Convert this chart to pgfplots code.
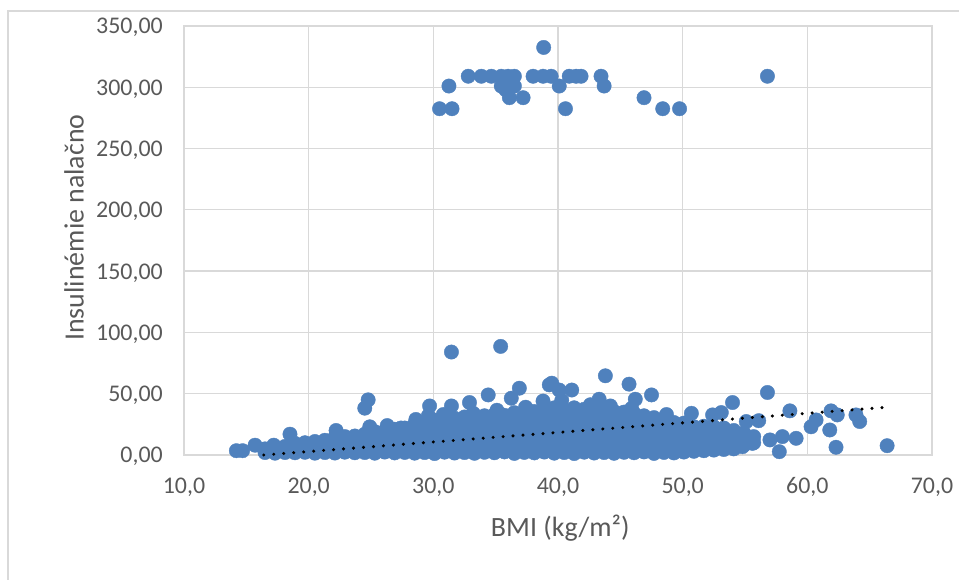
\documentclass[border=0pt]{standalone}
\usepackage{pgfplots}
\pgfplotsset{compat=1.18}
\usepackage{fontspec}
\setmainfont{Carlito}
\definecolor{exblue}{RGB}{79,129,189}
\definecolor{txtgray}{RGB}{89,89,89}
\definecolor{gridgray}{RGB}{217,217,217}
\begin{document}
\begin{tikzpicture}[x=1bp,y=1bp]
\path[use as bounding box] (0,0) rectangle (959,580);
\draw[gridgray, line width=2bp] (8,0) -- (8,569) -- (959,569);
\begin{axis}[
  at={(184bp,125bp)}, anchor=south west,
  scale only axis, width=748bp, height=429bp,
  xmin=10, xmax=70, ymin=0, ymax=350,
  xtick={10,20,30,40,50,60,70},
  xticklabels={{10,0},{20,0},{30,0},{40,0},{50,0},{60,0},{70,0}},
  ytick={0,50,100,150,200,250,300,350},
  yticklabels={{0,00},{50,00},{100,00},{150,00},{200,00},{250,00},{300,00},{350,00}},
  major tick length=0pt,
  axis line style={gridgray, line width=1.3bp},
  every tick label/.append style={font=\fontsize{24}{28}\selectfont, text=txtgray},
  yticklabel style={anchor=base east, inner sep=0pt, xshift=-21bp, yshift=-8bp},
  xticklabel style={anchor=base, inner sep=0pt, yshift=-39bp},
  xlabel={BMI (kg/m²)},
  ylabel={Insulinémie nalačno},
  label style={font=\fontsize{28}{32}\selectfont, text=txtgray},
  xlabel style={at={(axis description cs:0.503,-0.170)}, anchor=center},
  ylabel style={at={(axis description cs:-0.147,0.530)}, anchor=center},
  clip=false,
]
% grid lines
\addplot[gridgray, line width=1.3bp, forget plot] coordinates {(20,0) (20,350)};
\addplot[gridgray, line width=1.3bp, forget plot] coordinates {(30,0) (30,350)};
\addplot[gridgray, line width=1.3bp, forget plot] coordinates {(40,0) (40,350)};
\addplot[gridgray, line width=1.3bp, forget plot] coordinates {(50,0) (50,350)};
\addplot[gridgray, line width=1.3bp, forget plot] coordinates {(60,0) (60,350)};
\addplot[gridgray, line width=1.3bp, forget plot] coordinates {(10,50) (70,50)};
\addplot[gridgray, line width=1.3bp, forget plot] coordinates {(10,100) (70,100)};
\addplot[gridgray, line width=1.3bp, forget plot] coordinates {(10,150) (70,150)};
\addplot[gridgray, line width=1.3bp, forget plot] coordinates {(10,200) (70,200)};
\addplot[gridgray, line width=1.3bp, forget plot] coordinates {(10,250) (70,250)};
\addplot[gridgray, line width=1.3bp, forget plot] coordinates {(10,300) (70,300)};
% upper outliers
\addplot[only marks, mark=*, mark size=7.2bp, exblue, mark options={fill=exblue, draw=exblue}] coordinates {
(38.85,332.5) (31.25,301) (30.5,282.5) (31.5,282.5)
(32.8,309) (33.85,309) (34.65,309) (35.45,309) (36.0,309) (36.5,309)
(35.45,301) (36.0,301) (36.5,301) (35.8,298) (36.1,291.5) (37.2,291.5)
(38.0,309) (38.8,309) (39.45,309) (40.1,301) (40.6,282.5)
(40.9,309) (41.45,309) (41.85,309) (43.45,309) (43.7,301)
(46.9,291.5) (48.4,282.5) (49.75,282.5) (56.8,309)
};
% scatter cloud
\addplot[only marks, mark=*, mark size=7.2bp, exblue, mark options={fill=exblue, draw=exblue}] coordinates {
(31.45,84) (35.4,88.6) (24.77,45) (24.5,38.2) (39.3,57.2) (36.9,54.5) (34.4,49) (32.9,42.8)
(31.45,40) (29.7,40) (36.25,46.3) (38.8,44) (18.5,17) (15.7,8) (14.2,3.5) (14.7,3.5) (17.2,8)
(22.2,20) (24.9,23) (27.4,22) (28.6,29) (29.6,32) (33.2,34) (35.1,36.5) (37.4,39) (40.3,44.5)
(42.6,41) (44.2,40) (45.9,38) (48.7,33) (30.8,33) (26.3,24)
(43.8,64.6) (39.5,58.6) (45.7,57.8) (41.1,53) (40.1,53) (47.5,49) (43.3,45.5) (46.2,45.5)
(56.8,51) (54,42.8) (50.7,34) (58.6,36) (61.9,36) (62.4,32.7) (63.9,32.7) (64.2,27.3)
(60.7,28.6) (60.3,23) (61.8,20.4) (62.3,6.3) (66.4,7.6) (57.75,2.7) (59.1,13.6) (58.0,15)
(52.4,32.7) (53.1,34.6) (55.1,27.3) (56.1,28) (55.6,9.5) (54.8,6.8) (57.0,12.3)
(16.5,2) (16.5,5)
(17.3,1.5) (17.3,6)
(18.1,2) (18.1,7)
(18.9,1.8) (18.9,6.5) (18.9,9.5)
(19.7,2.2) (19.7,6) (19.7,10)
(20.5,1.5) (20.5,6.3) (20.5,11)
(21.3,2) (21.3,7) (21.3,12)
(22.1,1.6) (22.1,6.5) (22.1,11) (22.1,14.5)
(22.9,2.3) (22.9,7) (22.9,11.5) (22.9,15)
(23.7,1.8) (23.7,6) (23.7,10.5) (23.7,15.5)
(24.5,2) (24.5,7) (24.5,12) (24.5,17)
(25.3,1.5) (25.3,6.5) (25.3,11.5) (25.3,16.5) (25.3,19)
(26.1,2.4) (26.1,7.2) (26.1,12) (26.1,17) (26.1,19.5)
(26.9,1.7) (26.9,6.3) (26.9,11) (26.9,16) (26.9,21)
(27.7,2.1) (27.7,7) (27.7,12) (27.7,17) (27.7,22)
(28.5,1.5) (28.5,6.5) (28.5,11.5) (28.5,16.5) (28.5,21.5) (28.5,25)
(29.3,2) (29.3,7) (29.3,12) (29.3,17) (29.3,22) (29.3,26.5)
(30.1,1.2) (30.1,6) (30.1,11) (30.1,16) (30.1,21) (30.1,26) (30.1,28.5)
(30.9,2.3) (30.9,7.3) (30.9,12.3) (30.9,17.3) (30.9,22.3) (30.9,27.3)
(31.7,1.6) (31.7,6.4) (31.7,11.4) (31.7,16.4) (31.7,21.4) (31.7,26.4) (31.7,30)
(32.5,2) (32.5,7) (32.5,12) (32.5,17) (32.5,22) (32.5,27) (32.5,31)
(33.3,1.4) (33.3,6.2) (33.3,11.2) (33.3,16.2) (33.3,21.2) (33.3,26.2) (33.3,30.5)
(34.1,2.2) (34.1,7.1) (34.1,12.1) (34.1,17.1) (34.1,22.1) (34.1,27.1) (34.1,32)
(34.9,1.8) (34.9,6.6) (34.9,11.6) (34.9,16.6) (34.9,21.6) (34.9,26.6) (34.9,31.6) (34.9,33)
(35.7,2.5) (35.7,7.4) (35.7,12.4) (35.7,17.4) (35.7,22.4) (35.7,27.4) (35.7,32.4)
(36.5,1.3) (36.5,6) (36.5,11) (36.5,16) (36.5,21) (36.5,26) (36.5,31) (36.5,34.5)
(37.3,2.1) (37.3,7) (37.3,12) (37.3,17) (37.3,22) (37.3,27) (37.3,32) (37.3,35)
(38.1,1.7) (38.1,6.5) (38.1,11.5) (38.1,16.5) (38.1,21.5) (38.1,26.5) (38.1,31.5) (38.1,35.5)
(38.9,2.4) (38.9,7.2) (38.9,12.2) (38.9,17.2) (38.9,22.2) (38.9,27.2) (38.9,32.2) (38.9,37)
(39.7,1.5) (39.7,6.3) (39.7,11.3) (39.7,16.3) (39.7,21.3) (39.7,26.3) (39.7,31.3) (39.7,36.3) (39.7,38.5)
(40.5,2) (40.5,7) (40.5,12) (40.5,17) (40.5,22) (40.5,27) (40.5,32) (40.5,37)
(41.3,1.2) (41.3,6) (41.3,11) (41.3,16) (41.3,21) (41.3,26) (41.3,31) (41.3,36) (41.3,38.5)
(42.1,2.3) (42.1,7.3) (42.1,12.3) (42.1,17.3) (42.1,22.3) (42.1,27.3) (42.1,32.3) (42.1,37.3)
(42.9,1.6) (42.9,6.4) (42.9,11.4) (42.9,16.4) (42.9,21.4) (42.9,26.4) (42.9,31.4) (42.9,36.4)
(43.7,2) (43.7,7) (43.7,12) (43.7,17) (43.7,22) (43.7,27) (43.7,32) (43.7,37)
(44.5,1.4) (44.5,6.2) (44.5,11.2) (44.5,16.2) (44.5,21.2) (44.5,26.2) (44.5,31.2) (44.5,35.5)
(45.3,2.2) (45.3,7) (45.3,12) (45.3,17) (45.3,22) (45.3,27) (45.3,32) (45.3,35)
(46.1,1.8) (46.1,6.6) (46.1,11.6) (46.1,16.6) (46.1,21.6) (46.1,26.6) (46.1,31.6) (46.1,34)
(46.9,2.5) (46.9,7.3) (46.9,12.3) (46.9,17.3) (46.9,22.3) (46.9,27.3) (46.9,32)
(47.7,1.3) (47.7,6.1) (47.7,11.1) (47.7,16.1) (47.7,21.1) (47.7,26.1) (47.7,30.5)
(48.5,2.1) (48.5,7) (48.5,12) (48.5,17) (48.5,22) (48.5,27) (48.5,29.5)
(49.3,1.7) (49.3,6.5) (49.3,11.5) (49.3,16.5) (49.3,21.5) (49.3,26.5)
(50.1,2.4) (50.1,7.2) (50.1,12.2) (50.1,17.2) (50.1,22.2) (50.1,26)
(50.9,3) (50.9,8) (50.9,13) (50.9,18) (50.9,23)
(51.7,3.5) (51.7,8.5) (51.7,13.5) (51.7,18.5) (51.7,23.5)
(52.5,4) (52.5,9) (52.5,14) (52.5,19) (52.5,23)
(53.3,4.5) (53.3,9.5) (53.3,14.5) (53.3,19.5) (53.3,22)
(54.1,5) (54.1,10) (54.1,15) (54.1,20)
(54.9,8) (54.9,13) (54.9,18)
(55.7,10) (55.7,15)
};
\end{axis}
\begin{axis}[
  at={(184bp,125bp)}, anchor=south west,
  scale only axis, width=748bp, height=429bp,
  xmin=10, xmax=70, ymin=0, ymax=350,
  hide axis, clip=false,
]
\addplot[black, line width=3.4bp, line cap=round, dash pattern=on 0pt off 10bp] coordinates {(16.4,0) (66.4,39)};
\end{axis}
\end{tikzpicture}
\end{document}
